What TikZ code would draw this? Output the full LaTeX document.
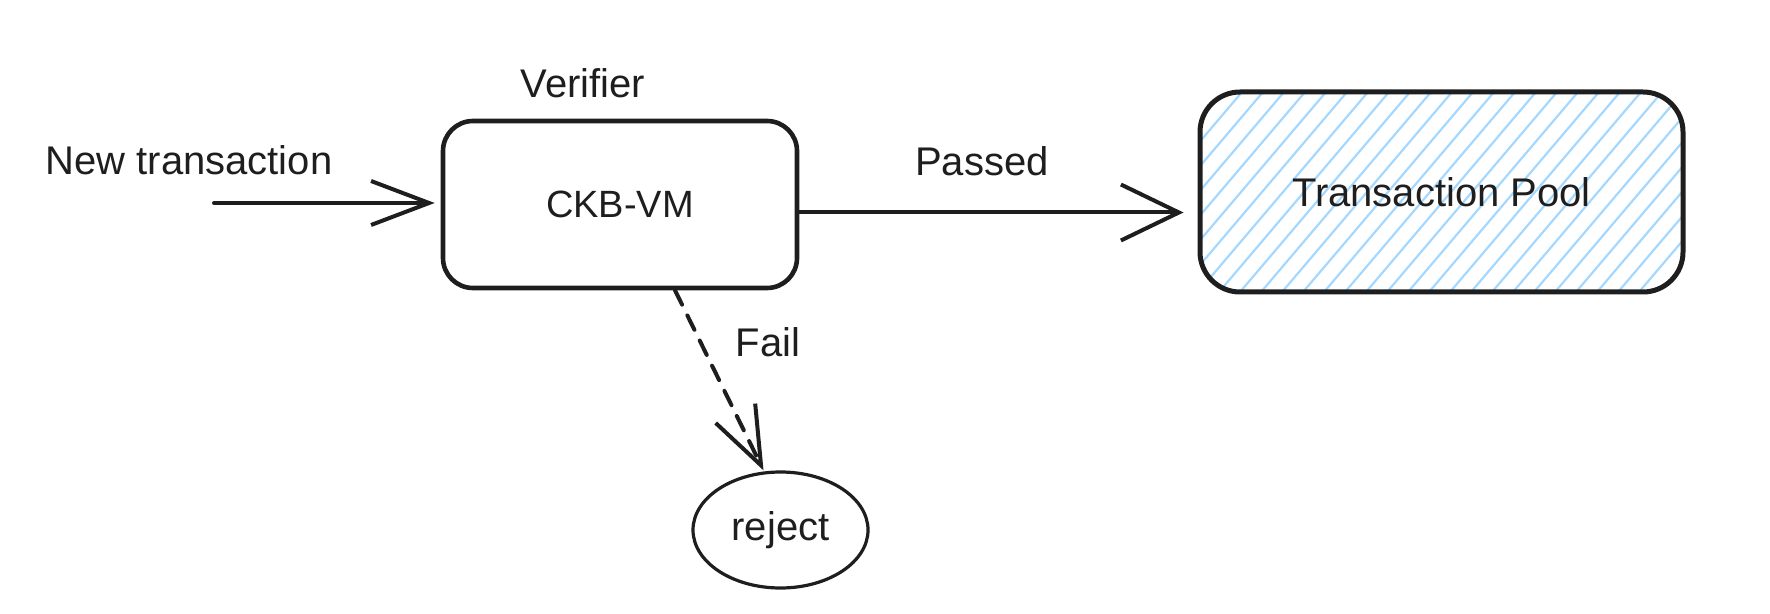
\documentclass[tikz,border=0pt]{standalone}
\usepackage{fontspec}
\setmainfont{Liberation Sans}
\usetikzlibrary{arrows.meta,shapes.geometric}
\definecolor{ink}{HTML}{1E1E1E}
\definecolor{hatch}{HTML}{A5D8FF}

\begin{document}
\begin{tikzpicture}[x=0.5pt,y=-0.5pt,
		font=\fontsize{20}{24}\selectfont, text=ink,
		box/.style={draw=ink,line width=2.3pt,rounded corners=15pt,
			minimum width=177pt,minimum height=83.5pt,inner sep=0pt},
		pool/.style={box,line width=2.5pt,rounded corners=20pt,minimum width=241.5pt,minimum height=100pt,
			path picture={\foreach \k in {0,...,32}{
				\draw[hatch,line width=1.1pt]
					([xshift=\k*10.5pt-85pt]path picture bounding box.south west) -- ++(85pt,100pt);}}},
		oval/.style={draw=ink,line width=1.6pt,ellipse,minimum width=87.5pt,minimum height=58pt,inner sep=0pt},
		flow/.style={draw=ink,line width=2pt,line cap=round,
			-{Straight Barb[length=29pt,width=22pt,line width=2pt]}},
		failflow/.style={flow,dash pattern=on 8pt off 6pt}]

		\useasboundingbox (0,0) rectangle (1770,614);

	    \node[box] (ckb) at (620,204.5) {\fontsize{19}{22}\selectfont CKB-VM};
	    \node[pool] (pool) at (1441.5,192) {Transaction Pool};
	    \node[oval] (reject) at (780.5,530) {reject};

	    \node (verifier) at (583,83) {Verifier};
	    \node (newtx) at (189,160) {New transaction};
	    \node (passed) at (982,161) {Passed};
	    \node (fail) at (768,342) {Fail};

	    \coordinate (in) at (214,203);
	    \coordinate (out) at ([yshift=-4pt]ckb.east);
	    \draw[flow,shorten >=3pt] (in) -- (in -| ckb.west);
	    \draw[flow,-{Straight Barb[length=29pt,width=28pt,line width=2pt]},shorten >=7pt] (out) -- (out -| pool.west);
	    \draw[failflow] ([xshift=27.5pt]ckb.south) -- ([xshift=-8.5pt]reject.north);

	\end{tikzpicture}
\end{document}
